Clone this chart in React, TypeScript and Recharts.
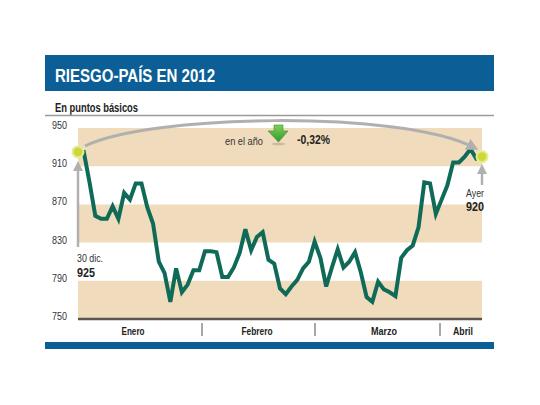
import React from 'react';
import { LineChart, Line, XAxis, YAxis, ReferenceArea } from 'recharts';

const riesgo = [
  925, 925, 893, 858, 855, 855, 868, 855, 882, 875,
  892, 892, 867, 850, 810, 798, 768, 803, 778, 786,
  801, 801, 821, 821, 820, 794, 794, 804, 819, 844,
  822, 836, 841, 812, 808, 782, 776, 784, 791, 803,
  810, 831, 814, 784, 804, 823, 804, 810, 820, 799,
  773, 768, 789, 781, 778, 774, 814, 822, 827, 846,
  893, 892, 860, 875, 890, 914, 914, 920, 928, 918,
  920,
];
const yTicks = [750, 790, 830, 870, 910, 950];
const bands: [number, number][] = [[910, 950], [830, 870], [750, 790]];
const months = ['Enero', 'Febrero', 'Marzo', 'Abril'];
const monthCenters = [133, 257, 384, 463];
const monthWidths = [23, 31, 26, 20];
const separators = [202, 315, 440];

const data = riesgo.map((v, i) => ({ i, v }));
const FONT = "'Liberation Sans Narrow','Liberation Sans',Arial,sans-serif";
const BLUE = '#0b5f96';
const TAN = '#f0dcbc';
const GREEN = '#0f6b57';
const GRAY = '#b0b0b0';

const YTick = (props: any) => {
  const { y, payload } = props;
  return (
    <text x={52} y={y + 1} fontSize={11} fill="#333" fontFamily={FONT} textLength={15} lengthAdjust="spacingAndGlyphs">
      {payload.value}
    </text>
  );
};

const EndDot = (props: any) => {
  const { cx, cy, index } = props;
  if (index !== 0 && index !== riesgo.length - 1) return <g key={index} />;
  return <circle key={index} cx={cx} cy={cy} r={5.5} fill="#cdd93a" stroke="#e4ec94" strokeWidth={2} />;
};

export default function App() {
  return (
    <div style={{ position: 'absolute', left: 0, top: 0, width: 540, height: 405, background: '#fff' }}>
      <LineChart width={540} height={405} data={data} margin={{ top: 128, right: 58, bottom: 85, left: 52 }}>
        {bands.map(([a, b], k) => (
          <ReferenceArea key={k} y1={a} y2={b} fill={TAN} fillOpacity={1} stroke="none" ifOverflow="visible" />
        ))}
        <XAxis dataKey="i" tick={false} tickLine={false} height={1} axisLine={{ stroke: '#5a5550', strokeWidth: 2.5 }} />
        <YAxis domain={[750, 950]} ticks={yTicks} width={26} axisLine={false} tickLine={false} tick={<YTick />} interval={0} />
        <Line type="linear" dataKey="v" stroke="none" dot={EndDot} activeDot={false} isAnimationActive={false} />
        <Line type="linear" dataKey="v" stroke={GREEN} strokeWidth={4} dot={false} isAnimationActive={false} />
      </LineChart>
      <svg width={540} height={405} style={{ position: 'absolute', left: 0, top: 0, pointerEvents: 'none' }}>
        <defs>
          <marker id="ah" markerWidth="4" markerHeight="4" refX="2" refY="2" orient="auto" markerUnits="strokeWidth">
            <path d="M0,0 L4,2 L0,4 z" fill={GRAY} />
          </marker>
          <linearGradient id="gArrow" x1="0" y1="0" x2="0" y2="1">
            <stop offset="0" stopColor="#7fcf5a" />
            <stop offset="1" stopColor="#2f9a2c" />
          </linearGradient>
        </defs>
        <rect x={45} y={55} width={449} height={36} fill={BLUE} />
        <text x={55} y={82} fontSize={19} fontWeight="bold" fill="#fff" fontFamily={FONT} textLength={160} lengthAdjust="spacingAndGlyphs">
          RIESGO-PAÍS EN 2012
        </text>
        <text x={55} y={112} fontSize={12} fontWeight="bold" fill="#222" fontFamily={FONT} textLength={83} lengthAdjust="spacingAndGlyphs">
          En puntos básicos
        </text>
        <line x1={45} x2={494} y1={115.5} y2={115.5} stroke="#9a9a9a" strokeWidth={1.5} />
        <rect x={45} y={342} width={449} height={7} fill={BLUE} />
        {separators.map((x, k) => (
          <line key={k} x1={x} x2={x} y1={323} y2={336} stroke="#8a8a8a" strokeWidth={1.5} />
        ))}
        {months.map((m, k) => (
          <text key={m} x={monthCenters[k]} y={335} textAnchor="middle" fontSize={11} fontWeight="bold" fill="#222" fontFamily={FONT} textLength={monthWidths[k]} lengthAdjust="spacingAndGlyphs">
            {m}
          </text>
        ))}
        <path d="M85,146 C150,114 400,110 473,147" fill="none" stroke={GRAY} strokeWidth={3} markerEnd="url(#ah)" />
        <line x1={78} x2={78} y1={247} y2={166} stroke={GRAY} strokeWidth={2.5} markerEnd="url(#ah)" />
        <line x1={482} x2={482} y1={185} y2={169} stroke={GRAY} strokeWidth={2.5} markerEnd="url(#ah)" />
        <text x={77} y={262} fontSize={11.5} fill="#333" fontFamily={FONT} textLength={26} lengthAdjust="spacingAndGlyphs">30 dic.</text>
        <text x={77} y={277} fontSize={13.5} fontWeight="bold" fill="#222" fontFamily={FONT} textLength={18} lengthAdjust="spacingAndGlyphs">925</text>
        <text x={466} y={197} fontSize={11} fill="#333" fontFamily={FONT} textLength={18} lengthAdjust="spacingAndGlyphs">Ayer</text>
        <text x={466} y={211} fontSize={13} fontWeight="bold" fill="#222" fontFamily={FONT} textLength={18} lengthAdjust="spacingAndGlyphs">920</text>
        <text x={225} y={145} fontSize={10.5} fill="#333" fontFamily={FONT} textLength={38} lengthAdjust="spacingAndGlyphs">en el año</text>
        <path d="M274,125 L283,125 L283,131 L288,131 L278.5,142 L268,131 L274,131 Z" fill="url(#gArrow)" stroke="#3f8f2c" strokeWidth={0.6} />
        <ellipse cx={278.5} cy={144} rx={7} ry={1.5} fill="#000" opacity={0.15} />
        <text x={297} y={144} fontSize={13} fontWeight="bold" fill="#222" fontFamily={FONT} textLength={33} lengthAdjust="spacingAndGlyphs">-0,32%</text>
      </svg>
    </div>
  );
}
